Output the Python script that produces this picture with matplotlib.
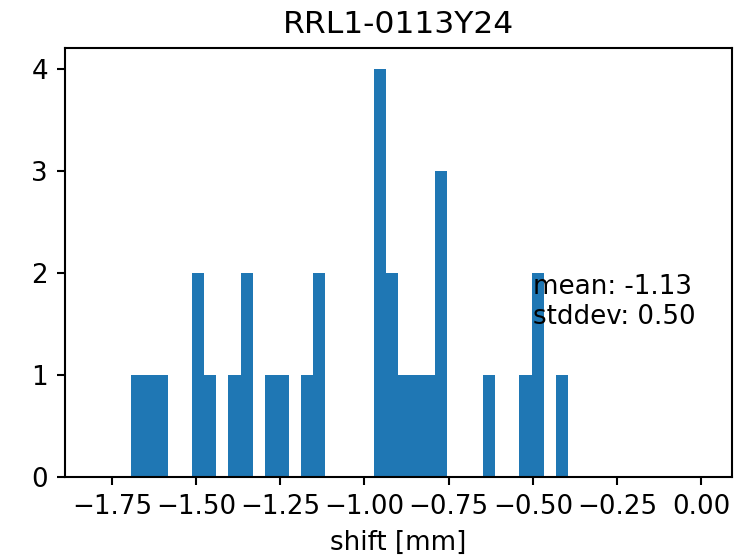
import numpy as np
import matplotlib
matplotlib.use("Agg")
import matplotlib.pyplot as plt

# histogram: 50 bins over [-1.8, 0]
bin_range = (-1.8, 0.0)
n_bins = 50
# bin index -> count (all other bins are empty)
bin_index = [3, 4, 5, 8, 9, 11, 12, 14, 15, 17, 18, 23, 24, 25, 26, 27, 28, 32, 35, 36, 38]
bin_count = [1, 1, 1, 2, 1, 1, 2, 1, 1, 1, 2, 4, 2, 1, 1, 1, 3, 1, 1, 2, 1]

title = "RRL1-0113Y24"
stats_text = "mean: -1.13\nstddev: 0.50"

edges = np.linspace(bin_range[0], bin_range[1], n_bins + 1)
centers = (edges[:-1] + edges[1:]) / 2
x = centers[bin_index]

dpi = 188
fig = plt.figure(figsize=(757 / dpi, 560 / dpi), dpi=dpi)
ax = fig.add_axes([0.0855, 0.148, 0.881, 0.7657])
ax.hist(x, bins=edges, weights=bin_count)
ax.text(-0.5, 1.5, stats_text)
ax.set_title(title)
ax.set_xlabel("shift [mm]")
ax.tick_params(length=2.9)
fig.savefig("out.png", dpi=dpi)
